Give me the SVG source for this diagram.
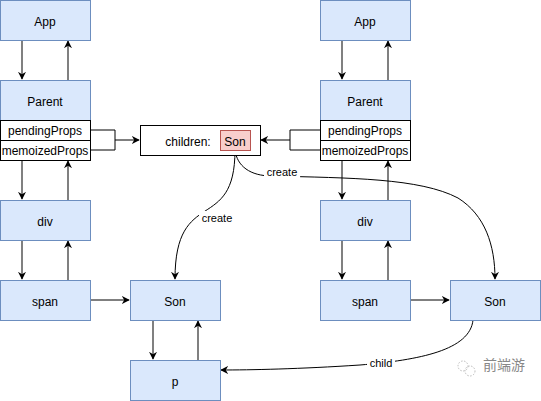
<svg xmlns="http://www.w3.org/2000/svg" width="541" height="401" viewBox="0 0 541 401">
<style>
.box{fill:#dae8fc;stroke:#6c8ebf;stroke-width:1}
.row{fill:#ffffff;stroke:#000;stroke-width:1}
.red{fill:#f8cecc;stroke:#b85450;stroke-width:1}
.t{font-family:"Liberation Sans",Arial,sans-serif;font-size:12px;fill:#000;text-anchor:middle;dominant-baseline:central}
.g{stroke:#808080;stroke-width:2;fill:none;marker-end:url(#ah)}
.k{stroke:#000;stroke-width:1;fill:none}
.ka{stroke:#000;stroke-width:1;fill:none;marker-end:url(#ah)}
.lbl{font-family:"Liberation Sans",Arial,sans-serif;font-size:11px;fill:#000;text-anchor:middle;dominant-baseline:central}
</style>
<defs>
<marker id="ah" viewBox="0 0 10 10" refX="9" refY="5" markerWidth="8" markerHeight="8" markerUnits="userSpaceOnUse" orient="auto">
<path d="M0,0 L10,5 L0,10 L3,5 Z" fill="#000"/>
</marker>
</defs>
<rect width="541" height="401" fill="#fff"/>

<g id="connectors">
<line class="g" x1="22" y1="40" x2="22" y2="79"/>
<line class="g" x1="68" y1="80" x2="68" y2="41"/>
<line class="g" x1="22" y1="160" x2="22" y2="199"/>
<line class="g" x1="68" y1="200" x2="68" y2="161"/>
<line class="g" x1="22" y1="240" x2="22" y2="279"/>
<line class="g" x1="68" y1="280" x2="68" y2="241"/>
<line class="g" x1="342" y1="40" x2="342" y2="79"/>
<line class="g" x1="388" y1="80" x2="388" y2="41"/>
<line class="g" x1="342" y1="160" x2="342" y2="199"/>
<line class="g" x1="388" y1="200" x2="388" y2="161"/>
<line class="g" x1="342" y1="240" x2="342" y2="279"/>
<line class="g" x1="388" y1="280" x2="388" y2="241"/>
<line class="g" x1="153" y1="320" x2="153" y2="359"/>
<line class="g" x1="198" y1="360" x2="198" y2="321"/>
<polyline class="k" points="90,130 115,130 115,150 90,150"/>
<line class="ka" x1="115" y1="140" x2="139" y2="140"/>
<polyline class="k" points="320,130 290,130 290,150 320,150"/>
<line class="ka" x1="290" y1="140" x2="261" y2="140"/>
<line class="ka" x1="90" y1="300" x2="129" y2="300"/>
<line class="ka" x1="410" y1="300" x2="449" y2="300"/>
<path class="ka" d="M235,150 C235,235 175,185 175,279"/>
<path class="ka" d="M235,150 C237,166 250,176 272,176 C350,178 420,178 458,198 C485,215 495,245 495,279"/>
<path class="ka" d="M473,320 C470,350 420,360 360,365 C300,369 250,370 221,370"/>
<rect x="199" y="211" width="36" height="14" fill="#fff"/>
<text class="lbl" x="217" y="218">create</text>
<rect x="264" y="165" width="36" height="14" fill="#fff"/>
<text class="lbl" x="282" y="172">create</text>
<rect x="367" y="356" width="28" height="14" fill="#fff"/>
<text class="lbl" x="381" y="363">child</text>
</g>

<g id="app-left"><rect class="box" x="0.5" y="0.5" width="90" height="40"/><text class="t" x="45" y="21.5">App</text></g>
<g id="parent-left"><rect class="box" x="0.5" y="80.5" width="90" height="40"/><text class="t" x="45" y="101.5">Parent</text>
<rect class="row" x="0.5" y="120.5" width="90" height="20"/><text class="t" x="45" y="131">pendingProps</text>
<rect class="row" x="0.5" y="140.5" width="90" height="20"/><text class="t" x="45" y="151">memoizedProps</text></g>
<g id="div-left"><rect class="box" x="0.5" y="200.5" width="90" height="40"/><text class="t" x="45" y="221.5">div</text></g>
<g id="span-left"><rect class="box" x="0.5" y="280.5" width="90" height="40"/><text class="t" x="45" y="301.5">span</text></g>
<g id="son-mid"><rect class="box" x="130.5" y="280.5" width="90" height="40"/><text class="t" x="175" y="301.5">Son</text></g>
<g id="p"><rect class="box" x="130.5" y="360.5" width="90" height="40"/><text class="t" x="175" y="381.5">p</text></g>
<g id="children"><rect class="row" x="140.5" y="125.5" width="120" height="30"/><text class="t" x="188" y="142">children:</text>
<rect class="red" x="220.5" y="130.5" width="30" height="20"/><text class="t" x="235" y="142">Son</text></g>
<g id="app-right"><rect class="box" x="320.5" y="0.5" width="90" height="40"/><text class="t" x="365" y="21.5">App</text></g>
<g id="parent-right"><rect class="box" x="320.5" y="80.5" width="90" height="40"/><text class="t" x="365" y="101.5">Parent</text>
<rect class="row" x="320.5" y="120.5" width="90" height="20"/><text class="t" x="365" y="131">pendingProps</text>
<rect class="row" x="320.5" y="140.5" width="90" height="20"/><text class="t" x="365" y="151">memoizedProps</text></g>
<g id="div-right"><rect class="box" x="320.5" y="200.5" width="90" height="40"/><text class="t" x="365" y="221.5">div</text></g>
<g id="span-right"><rect class="box" x="320.5" y="280.5" width="90" height="40"/><text class="t" x="365" y="301.5">span</text></g>
<g id="son-right"><rect class="box" x="450.5" y="280.5" width="90" height="40"/><text class="t" x="495" y="301.5">Son</text></g>

<g id="watermark">
<circle cx="463" cy="366" r="5" fill="none" stroke="#bbb" stroke-width="1" stroke-dasharray="1.5 1.5"/>
<circle cx="470" cy="371" r="5" fill="none" stroke="#bbb" stroke-width="1" stroke-dasharray="1.5 1.5"/>
<text x="504" y="370" font-family="'Noto Sans CJK SC',sans-serif" font-size="14" fill="#888" text-anchor="middle">前端游</text>
</g>
</svg>
